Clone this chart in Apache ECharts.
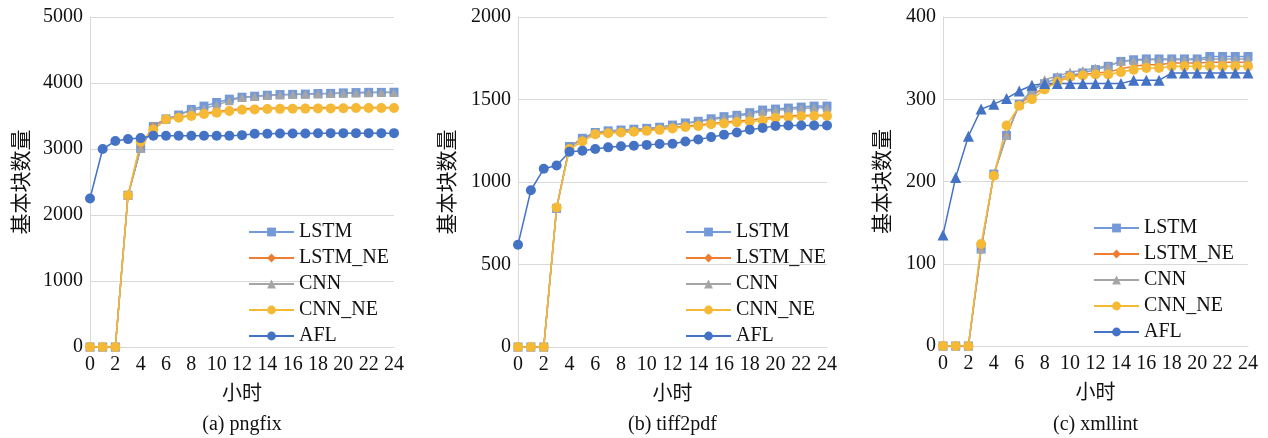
<!DOCTYPE html>
<html><head><meta charset="utf-8">
<script src="https://cdn.jsdelivr.net/npm/echarts@6/dist/echarts.min.js"></script>
<style>html,body{margin:0;padding:0;background:#fff}#c{width:1268px;height:438px}</style>
</head><body><div id="c"></div>
<script>
const hours = ['0','1','2','3','4','5','6','7','8','9','10','11','12','13','14','15','16','17','18','19','20','21','22','23','24'];
const seriesNames = ['LSTM','LSTM_NE','CNN','CNN_NE','AFL'];
const captions = ['(a) pngfix','(b) tiff2pdf','(c) xmllint'];
const yMax = [5000, 2000, 400];
const yInterval = [1000, 500, 100];

const a_LSTM    = [0,0,0,2300,3010,3340,3455,3515,3600,3650,3705,3755,3785,3800,3815,3825,3828,3832,3840,3843,3850,3855,3858,3858,3860];
const a_LSTM_NE = [0,0,0,2300,3020,3360,3450,3480,3510,3545,3565,3590,3610,3615,3618,3620,3622,3625,3626,3628,3628,3630,3630,3630,3630];
const a_CNN     = [0,0,0,2300,3010,3340,3450,3510,3590,3615,3665,3730,3780,3795,3810,3820,3825,3830,3835,3840,3845,3850,3852,3855,3855];
const a_CNN_NE  = [0,0,0,2300,3110,3290,3450,3475,3500,3530,3550,3575,3595,3600,3605,3608,3610,3612,3615,3615,3618,3620,3620,3622,3622];
const a_AFL     = [2250,3000,3120,3150,3165,3200,3200,3200,3200,3200,3200,3200,3210,3230,3232,3235,3235,3235,3238,3240,3240,3240,3240,3240,3240];

const b_LSTM    = [0,0,0,840,1215,1265,1300,1310,1315,1320,1325,1332,1345,1358,1368,1383,1396,1404,1420,1436,1442,1448,1454,1460,1460];
const b_LSTM_NE = [0,0,0,845,1215,1262,1295,1300,1305,1310,1315,1322,1330,1338,1345,1355,1362,1370,1375,1385,1395,1400,1403,1405,1405];
const b_CNN     = [0,0,0,845,1210,1260,1298,1308,1312,1318,1322,1330,1342,1355,1365,1378,1390,1398,1412,1428,1435,1440,1445,1450,1450];
const b_CNN_NE  = [0,0,0,845,1200,1245,1290,1295,1300,1305,1310,1316,1325,1333,1340,1350,1355,1362,1366,1373,1388,1393,1398,1400,1400];
const b_AFL     = [620,950,1080,1100,1183,1190,1200,1210,1217,1220,1225,1230,1232,1245,1258,1272,1287,1300,1317,1328,1340,1342,1342,1343,1343];

const c_LSTM    = [0,0,0,118,209,256,294,311,319,326,329,332,336,340,346,348,349,349,349,349,349,352,352,352,352];
const c_LSTM_NE = [0,0,0,118,209,256,294,305,314,322,328,330,332,333,337,340,342,342,344,344,344,345,345,345,345];
const c_CNN     = [0,0,0,118,209,256,294,310,324,328,333,335,338,341,346,347,348,348,348,348,348,349,349,349,349];
const c_CNN_NE  = [0,0,0,124,207,268,292,300,312,321,327,329,330,330,333,336,338,338,340,340,340,340,340,340,340];
const c_AFL     = [135,205,255,288,294,301,310,317,319,319,319,319,319,319,319,323,323,323,332,332,332,332,332,332,332];

const panels = [
  [a_LSTM, a_LSTM_NE, a_CNN, a_CNN_NE, a_AFL],
  [b_LSTM, b_LSTM_NE, b_CNN, b_CNN_NE, b_AFL],
  [c_LSTM, c_LSTM_NE, c_CNN, c_CNN_NE, c_AFL]
];

const FONT = '"Liberation Serif","Times New Roman","Noto Sans CJK SC",serif';
const TXT = '#111';
const colors = ['#7399D8','#ED7D31','#A5A5A5','#F5B935','#4472C4'];
const symbols = ['rect','diamond','triangle','circle','circle'];
const symSizes = [9,7,9,10,10];

const grids = [
  {left:90, top:17, width:304, height:330},
  {left:518, top:17, width:309, height:330},
  {left:943, top:17, width:305, height:329}
];
const nameGaps = [57, 59, 49];
const legendPos = [{left:248, top:222},{left:685, top:222},{left:1093, top:218}];

const xAxes = [], yAxes = [], series = [], legends = [], graphics = [];
grids.forEach((g, i) => {
  xAxes.push({
    gridIndex:i, type:'category', data:hours, boundaryGap:false,
    axisLine:{lineStyle:{color:'#D9D9D9', width:1}},
    axisTick:{show:false},
    axisLabel:{interval:1, color:TXT, fontFamily:FONT, fontSize:20, margin:8},
    name:'小时', nameLocation:'middle', nameGap:38,
    nameTextStyle:{color:TXT, fontFamily:FONT, fontSize:20}
  });
  yAxes.push({
    gridIndex:i, type:'value', min:0, max:yMax[i], interval:yInterval[i],
    axisLine:{show:true, lineStyle:{color:'#D9D9D9', width:1}},
    axisTick:{show:false},
    splitLine:{lineStyle:{color:'#D9D9D9', width:1}},
    axisLabel:{color:TXT, fontFamily:FONT, fontSize:20, margin:7, formatter: v => String(v)},
    name:'基本块数量', nameLocation:'middle', nameGap:nameGaps[i], nameRotate:90,
    nameTextStyle:{color:TXT, fontFamily:FONT, fontSize:21}
  });
  seriesNames.forEach((n, k) => {
    let sym = symbols[k], sz = symSizes[k];
    if (i === 2 && n === 'AFL') { sym = 'triangle'; sz = 11; }
    series.push({
      name:n, type:'line', xAxisIndex:i, yAxisIndex:i,
      data: panels[i][k],
      symbol:sym, symbolSize:sz, showSymbol:true, showAllSymbol:true,
      itemStyle:{color:colors[k]},
      lineStyle:{color:colors[k], width:1.5},
      animation:false
    });
  });
  legends.push({
    orient:'vertical', left:legendPos[i].left, top:legendPos[i].top,
    data:seriesNames.slice(), itemWidth:45, itemHeight:11, itemGap:6,
    textStyle:{color:TXT, fontFamily:FONT, fontSize:20},
    selectedMode:false, padding:0
  });
  graphics.push({
    type:'text', id:'cap'+i, x:g.left + g.width/2, y:425,
    style:{text:captions[i], fill:TXT, font:'20px ' + FONT, textAlign:'center', textVerticalAlign:'middle'}
  });
});

const chart = echarts.init(document.getElementById('c'));
chart.setOption({
  backgroundColor:'#fff',
  animation:false,
  grid:grids, xAxis:xAxes, yAxis:yAxes, series:series, legend:legends,
  graphic:graphics
});
</script></body></html>
